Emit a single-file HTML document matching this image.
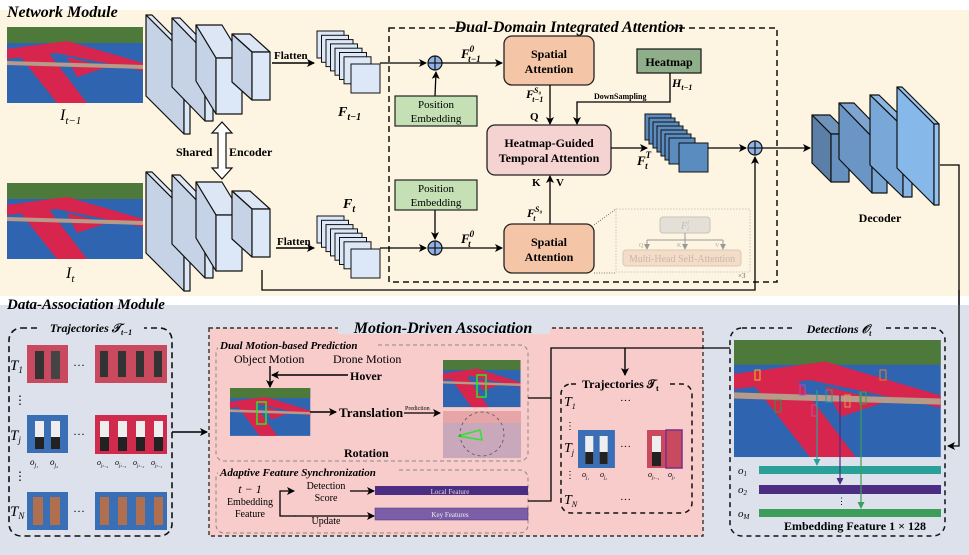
<!DOCTYPE html>
<html><head><meta charset="utf-8"><style>
html,body{margin:0;padding:0;background:#fff}
svg{display:block;font-family:"Liberation Serif",serif}
.b{font-weight:bold}
.i{font-style:italic}
</style></head><body>
<svg width="969" height="555" viewBox="0 0 969 555" xmlns="http://www.w3.org/2000/svg">
<defs>
<marker id="ar" markerWidth="8" markerHeight="8" refX="7" refY="4" orient="auto" markerUnits="userSpaceOnUse"><path d="M0,0 L8,4 L0,8 L2,4z" fill="#000"/></marker>
<marker id="ag" markerWidth="6" markerHeight="6" refX="5" refY="3" orient="auto" markerUnits="userSpaceOnUse"><path d="M0,0 L6,3 L0,6z" fill="#999"/></marker>
<marker id="at" markerWidth="7" markerHeight="7" refX="6" refY="3.5" orient="auto" markerUnits="userSpaceOnUse"><path d="M0,0 L7,3.5 L0,7z" fill="#2aa198"/></marker>
<marker id="ap" markerWidth="7" markerHeight="7" refX="6" refY="3.5" orient="auto" markerUnits="userSpaceOnUse"><path d="M0,0 L7,3.5 L0,7z" fill="#4b2e83"/></marker>
<marker id="agr" markerWidth="7" markerHeight="7" refX="6" refY="3.5" orient="auto" markerUnits="userSpaceOnUse"><path d="M0,0 L7,3.5 L0,7z" fill="#3c9e5a"/></marker>
<g id="court">
<rect width="136" height="76" fill="#2f64b0"/>
<rect width="136" height="16" fill="#4d7a3a"/>
<polygon points="0,22 60,14 136,36 136,44 50,26 0,32" fill="#d8254e"/>
<polygon points="12,28 40,24 80,76 50,76" fill="#d8254e"/>
<polygon points="60,30 100,40 70,50" fill="#d8254e"/>
<polygon points="0,34 136,38 136,42 0,38" fill="#b89a88"/>
</g>
<g id="pers"><rect width="41" height="38" fill="#c94a5e"/><rect x="8" y="6" width="9" height="28" fill="#333"/><rect x="24" y="6" width="9" height="28" fill="#444"/></g>
<g id="persb"><rect width="41" height="38" fill="#3a6eb5"/><rect x="8" y="6" width="9" height="28" fill="#eee"/><rect x="24" y="6" width="9" height="28" fill="#eee"/><rect x="8" y="22" width="9" height="12" fill="#222"/><rect x="24" y="22" width="9" height="12" fill="#222"/></g>
</defs>

<!-- backgrounds -->
<rect x="0" y="10" width="969" height="286" fill="#fdf5e1"/>
<rect x="0" y="305" width="969" height="250" fill="#dce1ec"/>
<text x="7" y="17" class="b i" font-size="16">Network Module</text>
<text x="7" y="309" class="b i" font-size="15">Data-Association Module</text>

<!-- input images -->
<use href="#court" x="7" y="27"/>
<use href="#court" x="7" y="183"/>
<text x="60" y="120" class="i" font-size="16">I<tspan font-size="11" dy="4">t−1</tspan></text>
<text x="66" y="278" class="i" font-size="16">I<tspan font-size="11" dy="4">t</tspan></text>

<!-- encoders -->
<g stroke="#111" stroke-width="1.2" stroke-linejoin="round">
<g id="enc">
<polygon points="146,15 152,15 190,53 184,53" fill="#dce6f5"/><polygon points="146,15 184,53 184,134 146,96" fill="#c6d2e6"/><rect x="184" y="53" width="6" height="81" fill="#dce8f8"/>
<polygon points="172,18 180,18 213,52 205,52" fill="#dce6f5"/><polygon points="172,18 205,52 205,121 172,87" fill="#c6d2e6"/><rect x="205" y="52" width="8" height="69" fill="#dce8f8"/>
<polygon points="196,25 222,25 242,58 216,58" fill="#dce6f5"/><polygon points="196,25 216,58 216,114 196,81" fill="#c6d2e6"/><rect x="216" y="58" width="26" height="56" fill="#dce8f8"/>
<polygon points="232,34 250,34 270,52 252,52" fill="#dce6f5"/><polygon points="232,34 252,52 252,100 232,82" fill="#c6d2e6"/><rect x="252" y="52" width="18" height="48" fill="#dce8f8"/>
</g>
<use href="#enc" y="157"/>
</g>
<!-- shared arrow -->
<polygon points="222,122 232,133 226,133 226,168 232,168 222,179 212,168 218,168 218,133 212,133" fill="#fff" stroke="#111" stroke-width="1.2"/>
<text x="176" y="156" class="b" font-size="12">Shared</text>
<text x="229" y="156" class="b" font-size="12">Encoder</text>

<!-- flatten -->
<line x1="272" y1="63" x2="314" y2="63" stroke="#000" stroke-width="1.5" marker-end="url(#ar)"/>
<text x="274" y="59" class="b" font-size="11">Flatten</text>
<line x1="276" y1="248" x2="314" y2="248" stroke="#000" stroke-width="1.5" marker-end="url(#ar)"/>
<text x="277" y="245" class="b" font-size="11">Flatten</text>

<!-- feature stacks -->
<g stroke="#111" stroke-width="1" fill="#dce8f8" id="fs">
<rect x="317" y="31" width="27" height="27"/><rect x="321.5" y="35.3" width="27" height="27"/><rect x="326" y="39.6" width="27" height="27"/><rect x="330.5" y="43.9" width="27" height="27"/><rect x="335" y="48.2" width="27" height="27"/><rect x="339.5" y="52.5" width="27" height="27"/><rect x="344" y="56.8" width="27" height="27"/><rect x="351" y="64" width="29" height="29"/>
</g>
<use href="#fs" y="185"/>
<text x="338" y="116" class="i b" font-size="14">F<tspan font-size="10" dy="4">t−1</tspan></text>
<text x="343" y="208" class="i b" font-size="14">F<tspan font-size="10" dy="4">t</tspan></text>

<!-- DDIA box -->
<rect x="389" y="28" width="388" height="254" fill="none" stroke="#111" stroke-width="1.5" stroke-dasharray="6,4"/>
<rect x="465" y="16" width="208" height="20" fill="#fdf5e1"/>
<text x="569" y="32" text-anchor="middle" class="b i" font-size="16">Dual-Domain Integrated Attention</text>

<!-- plus circles and lines -->
<line x1="380" y1="63" x2="426" y2="63" stroke="#000" stroke-width="1.3" marker-end="url(#ar)"/>
<line x1="380" y1="248" x2="426" y2="248" stroke="#000" stroke-width="1.3" marker-end="url(#ar)"/>
<g stroke="#111" stroke-width="1.2" fill="#8fb3e6">
<circle cx="435" cy="63" r="7"/><circle cx="435" cy="248" r="7"/><circle cx="755" cy="148" r="7"/>
</g>
<g stroke="#111" stroke-width="1.2"><line x1="428" y1="63" x2="442" y2="63"/><line x1="435" y1="56" x2="435" y2="70"/><line x1="428" y1="248" x2="442" y2="248"/><line x1="435" y1="241" x2="435" y2="255"/><line x1="748" y1="148" x2="762" y2="148"/><line x1="755" y1="141" x2="755" y2="155"/></g>
<line x1="435" y1="96" x2="436" y2="72" stroke="#000" stroke-width="1.3" marker-end="url(#ar)"/>
<line x1="435" y1="210" x2="435" y2="239" stroke="#000" stroke-width="1.3" marker-end="url(#ar)"/>
<rect x="395" y="96" width="82" height="30" fill="#c5e0b4" stroke="#222" stroke-width="1.2"/>
<text x="436" y="108" text-anchor="middle" font-size="11">Position</text><text x="436" y="122" text-anchor="middle" font-size="11">Embedding</text>
<rect x="395" y="180" width="82" height="30" fill="#c5e0b4" stroke="#222" stroke-width="1.2"/>
<text x="436" y="192" text-anchor="middle" font-size="11">Position</text><text x="436" y="206" text-anchor="middle" font-size="11">Embedding</text>

<line x1="442" y1="63" x2="502" y2="63" stroke="#000" stroke-width="1.3" marker-end="url(#ar)"/>
<line x1="442" y1="248" x2="502" y2="248" stroke="#000" stroke-width="1.3" marker-end="url(#ar)"/>
<text x="461" y="58" class="i b" font-size="13">F<tspan font-size="9" dy="-6">0</tspan><tspan font-size="9" dx="-6" dy="10">t−1</tspan></text>
<text x="461" y="243" class="i b" font-size="13">F<tspan font-size="9" dy="-6">0</tspan><tspan font-size="9" dx="-6" dy="10">t</tspan></text>

<!-- spatial attention -->
<rect x="504" y="36" width="90" height="49" rx="8" fill="#f4c5a6" stroke="#222" stroke-width="1.3"/>
<text x="549" y="58" text-anchor="middle" class="b" font-size="12">Spatial</text><text x="549" y="73" text-anchor="middle" class="b" font-size="12">Attention</text>
<rect x="504" y="224" width="90" height="49" rx="8" fill="#f4c5a6" stroke="#222" stroke-width="1.3"/>
<text x="549" y="246" text-anchor="middle" class="b" font-size="12">Spatial</text><text x="549" y="261" text-anchor="middle" class="b" font-size="12">Attention</text>

<!-- HGTA -->
<rect x="487" y="125" width="124" height="50" rx="8" fill="#f5d3d1" stroke="#222" stroke-width="1.3"/>
<text x="549" y="147" text-anchor="middle" class="b" font-size="12">Heatmap-Guided</text><text x="549" y="162" text-anchor="middle" class="b" font-size="12">Temporal Attention</text>
<line x1="550" y1="85" x2="550" y2="124" stroke="#000" stroke-width="1.3" marker-end="url(#ar)"/>
<line x1="550" y1="224" x2="550" y2="176" stroke="#000" stroke-width="1.3" marker-end="url(#ar)"/>
<text x="526" y="98" class="i b" font-size="12">F<tspan font-size="8" dy="-5">S₀</tspan><tspan font-size="8" dx="-9" dy="9">t−1</tspan></text>
<text x="530" y="120" class="b" font-size="11">Q</text>
<text x="532" y="186" class="b" font-size="11">K</text><text x="556" y="186" class="b" font-size="11">V</text>
<text x="527" y="217" class="i b" font-size="12">F<tspan font-size="8" dy="-5">S₀</tspan><tspan font-size="8" dx="-9" dy="9">t</tspan></text>

<!-- heatmap -->
<rect x="637" y="49" width="64" height="24" fill="#8fae8a" stroke="#222" stroke-width="1.3"/>
<text x="669" y="66" text-anchor="middle" class="b" font-size="12">Heatmap</text>
<text x="672" y="87" class="i b" font-size="12">H<tspan font-size="8" dy="3">t−1</tspan></text>
<polyline points="670,73 670,102 577,102 577,124" fill="none" stroke="#000" stroke-width="1.3" marker-end="url(#ar)"/>
<text x="594" y="99" class="b" font-size="8">DownSampling</text>

<!-- F_t^T stack -->
<line x1="611" y1="148" x2="647" y2="148" stroke="#000" stroke-width="1.3" marker-end="url(#ar)"/>
<g stroke="#111" stroke-width="1" fill="#5b8cc0">
<rect x="645" y="114" width="26" height="26"/><rect x="649" y="118" width="26" height="26"/><rect x="653" y="122" width="26" height="26"/><rect x="657" y="126" width="26" height="26"/><rect x="661" y="130" width="26" height="26"/><rect x="665" y="134" width="26" height="26"/><rect x="669" y="138" width="26" height="26"/><rect x="679" y="143" width="29" height="29"/>
</g>
<text x="637" y="165" class="i b" font-size="13">F<tspan font-size="9" dy="-7">T</tspan><tspan font-size="9" dx="-6" dy="11">t</tspan></text>
<line x1="708" y1="148" x2="746" y2="148" stroke="#000" stroke-width="1.3" marker-end="url(#ar)"/>
<polyline points="262,270 262,290 755,290 755,157" fill="none" stroke="#000" stroke-width="1.3" marker-end="url(#ar)"/>
<line x1="762" y1="148" x2="810" y2="148" stroke="#000" stroke-width="1.3" marker-end="url(#ar)"/>

<!-- MHSA inset -->
<line x1="594" y1="225" x2="616" y2="209" stroke="#555" stroke-width="0.8" stroke-dasharray="1,1.5"/>
<line x1="594" y1="273" x2="616" y2="273" stroke="#555" stroke-width="0.8" stroke-dasharray="1,1.5"/>
<rect x="616" y="209" width="134" height="63" fill="none" stroke="#bbb" stroke-width="0.8" stroke-dasharray="1.5,1.5"/>
<rect x="660" y="217" width="50" height="16" rx="3" fill="#e4e0d8" stroke="#c8c4bc"/>
<text x="681" y="229" class="i" font-size="10" fill="#bbb">F<tspan font-size="7" dy="-4">i</tspan><tspan font-size="7" dx="-2" dy="6">t</tspan></text>
<polyline points="685,233 685,240" fill="none" stroke="#999"/>
<polyline points="647,240 723,240" fill="none" stroke="#999"/>
<line x1="647" y1="240" x2="647" y2="249" stroke="#999" marker-end="url(#ag)"/>
<line x1="685" y1="240" x2="685" y2="249" stroke="#999" marker-end="url(#ag)"/>
<line x1="723" y1="240" x2="723" y2="249" stroke="#999" marker-end="url(#ag)"/>
<text x="639" y="247" font-size="6" fill="#aaa">Q</text><text x="677" y="247" font-size="6" fill="#aaa">K</text><text x="715" y="247" font-size="6" fill="#aaa">V</text>
<rect x="623" y="250" width="118" height="16" rx="3" fill="#f3dcc8" stroke="#ddc8b4"/>
<text x="682" y="262" text-anchor="middle" font-size="10" fill="#c9b8a8">Multi-Head Self-Attention</text>
<text x="738" y="278" font-size="7" fill="#666">×3</text>

<!-- decoder -->
<g stroke="#111" stroke-width="1.2" stroke-linejoin="round">
<polygon points="812,115 830,115 849,134 831,134" fill="#6f93bb"/><polygon points="812,115 831,134 831,182 812,163" fill="#5b7fa6"/><rect x="831" y="134" width="18" height="48" fill="#6690bd"/>
<polygon points="839,103 854,103 887,137 872,137" fill="#7ea5cf"/><polygon points="839,103 872,137 872,193 839,159" fill="#6a95c4"/><rect x="872" y="137" width="15" height="56" fill="#79a5d4"/>
<polygon points="870,95 879,95 912,127 903,127" fill="#8db6e0"/><polygon points="870,95 903,127 903,197 870,165" fill="#79a8d8"/><rect x="903" y="127" width="9" height="70" fill="#86b5e6"/>
<polygon points="897,87 902,87 939,124 934,124" fill="#9ac3ee"/><polygon points="897,87 934,124 934,205 897,168" fill="#86b8ea"/><rect x="934" y="124" width="5" height="81" fill="#95c4f0"/>
</g>
<text x="880" y="222" text-anchor="middle" class="b" font-size="12">Decoder</text>
<polyline points="940,165 959,165 959,446 948,446" fill="none" stroke="#000" stroke-width="1.3" marker-end="url(#ar)"/>
<line x1="959" y1="290" x2="959" y2="305" stroke="#000" stroke-width="1.3"/>

<!-- Trajectories t-1 -->
<rect x="9" y="328" width="163" height="208" rx="12" fill="none" stroke="#111" stroke-width="1.6" stroke-dasharray="6,4"/>
<rect x="38" y="320" width="106" height="16" fill="#dce1ec"/>
<text x="91" y="332" text-anchor="middle" class="i b" font-size="12">Trajectories 𝒯<tspan font-size="8" dy="3">t−1</tspan></text>
<text x="10" y="370" class="i" font-size="15">T<tspan font-size="9" dy="3">1</tspan></text>
<text x="10" y="440" class="i" font-size="15">T<tspan font-size="9" dy="3">j</tspan></text>
<text x="10" y="516" class="i" font-size="15">T<tspan font-size="9" dy="3">N</tspan></text>
<text x="14" y="404" font-size="12">⋮</text><text x="14" y="480" font-size="12">⋮</text>
<use href="#pers" x="27" y="345"/><rect x="95" y="345" width="72" height="38" fill="#c94a5e"/>
<g fill="#333"><rect x="100" y="351" width="8" height="26"/><rect x="118" y="351" width="8" height="26"/><rect x="136" y="351" width="8" height="26"/><rect x="154" y="351" width="8" height="26"/></g>
<use href="#persb" x="27" y="415"/><rect x="95" y="415" width="72" height="39" fill="#d02a4c"/>
<g fill="#eee"><rect x="100" y="421" width="9" height="16"/><rect x="118" y="421" width="9" height="16"/><rect x="136" y="421" width="9" height="16"/><rect x="154" y="421" width="9" height="16"/></g>
<g fill="#222"><rect x="100" y="437" width="9" height="14"/><rect x="118" y="437" width="9" height="14"/><rect x="136" y="437" width="9" height="14"/><rect x="154" y="437" width="9" height="14"/></g>
<rect x="27" y="492" width="41" height="38" fill="#3a6eb5"/><rect x="95" y="492" width="72" height="38" fill="#3a6eb5"/>
<g fill="#b07050"><rect x="33" y="497" width="10" height="28"/><rect x="50" y="497" width="10" height="28"/><rect x="100" y="497" width="9" height="28"/><rect x="118" y="497" width="9" height="28"/><rect x="136" y="497" width="9" height="28"/><rect x="154" y="497" width="9" height="28"/></g>
<text x="73" y="369" font-size="12">···</text><text x="73" y="438" font-size="12">···</text><text x="73" y="515" font-size="12">···</text>
<text x="30" y="465" class="i" font-size="9">o<tspan font-size="6" dy="2">j₁</tspan></text><text x="50" y="465" class="i" font-size="9">o<tspan font-size="6" dy="2">j₂</tspan></text>
<text x="97" y="465" class="i" font-size="8">o<tspan font-size="5" dy="2">jₜ₋₄</tspan></text><text x="115" y="465" class="i" font-size="8">o<tspan font-size="5" dy="2">jₜ₋₃</tspan></text><text x="133" y="465" class="i" font-size="8">o<tspan font-size="5" dy="2">jₜ₋₂</tspan></text><text x="151" y="465" class="i" font-size="8">o<tspan font-size="5" dy="2">jₜ₋₁</tspan></text>
<line x1="172" y1="432" x2="207" y2="432" stroke="#000" stroke-width="1.5" marker-end="url(#ar)"/>

<!-- Motion-driven association -->
<rect x="209" y="328" width="494" height="208" fill="#f7cccb" stroke="#333" stroke-width="1.4" stroke-dasharray="4,3"/>
<rect x="338" y="318" width="212" height="16" fill="#dce1ec"/>
<text x="443" y="333" text-anchor="middle" class="i b" font-size="16">Motion-Driven Association</text>
<rect x="216" y="345" width="312" height="116" rx="8" fill="none" stroke="#888" stroke-width="1" stroke-dasharray="4,3"/>
<rect x="218" y="338" width="160" height="12" fill="#f7cccb"/>
<text x="220" y="349" class="i b" font-size="11">Dual Motion-based Prediction</text>
<text x="234" y="363" font-size="12">Object Motion</text>
<text x="333" y="363" font-size="12">Drone Motion</text>
<text x="350" y="380" class="b" font-size="12">Hover</text>
<line x1="348" y1="375" x2="272" y2="375" stroke="#000" stroke-width="1.4" marker-end="url(#ar)"/>
<line x1="270" y1="366" x2="270" y2="387" stroke="#000" stroke-width="1.4" marker-end="url(#ar)"/>
<g transform="translate(230,388) scale(0.59,0.63)"><use href="#court"/></g>
<rect x="257" y="402" width="9" height="22" fill="none" stroke="#2be52b" stroke-width="1.5"/>
<line x1="310" y1="412" x2="336" y2="412" stroke="#000" stroke-width="1.4" marker-end="url(#ar)"/>
<text x="339" y="417" class="b" font-size="13">Translation</text>
<text x="405" y="410" font-size="6">Prediction</text>
<line x1="404" y1="413" x2="440" y2="413" stroke="#000" stroke-width="1.3" marker-end="url(#ar)"/>
<text x="344" y="457" class="b" font-size="12">Rotation</text>
<g transform="translate(443,360) scale(0.57,0.62)"><use href="#court"/></g>
<rect x="477" y="375" width="9" height="22" fill="none" stroke="#2be52b" stroke-width="1.5"/>
<rect x="443" y="411" width="78" height="47" fill="#c9a8bc"/>
<rect x="443" y="411" width="78" height="12" fill="#e6a6a8"/>
<polyline points="458,436 480,430 482,440 458,436" fill="none" stroke="#2be52b" stroke-width="1.5"/>
<circle cx="482" cy="434" r="22" fill="none" stroke="#555" stroke-dasharray="3,3" stroke-width="0.8"/>

<rect x="216" y="470" width="312" height="63" rx="8" fill="none" stroke="#888" stroke-width="1" stroke-dasharray="4,3"/>
<rect x="218" y="465" width="178" height="12" fill="#f7cccb"/>
<text x="220" y="476" class="i b" font-size="11">Adaptive Feature Synchronization</text>
<text x="250" y="493" text-anchor="middle" class="i" font-size="12">t − 1</text>
<text x="250" y="505" text-anchor="middle" font-size="10">Embedding</text>
<text x="250" y="517" text-anchor="middle" font-size="10">Feature</text>
<polyline points="295,516 280,516 280,491 294,491" fill="none" stroke="#000" stroke-width="1.3" marker-end="url(#ar)"/>
<line x1="294" y1="516" x2="374" y2="516" stroke="#000" stroke-width="1.3" marker-end="url(#ar)"/>
<text x="326" y="489" text-anchor="middle" font-size="10">Detection</text>
<text x="326" y="501" text-anchor="middle" font-size="10">Score</text>
<text x="326" y="524" text-anchor="middle" font-size="10">Update</text>
<line x1="350" y1="491" x2="374" y2="491" stroke="#000" stroke-width="1.3" marker-end="url(#ar)"/>
<rect x="375" y="486" width="153" height="9" fill="#4b2e83"/>
<text x="450" y="494" text-anchor="middle" font-size="7" fill="#ddd">Local Feature</text>
<rect x="375" y="508" width="153" height="12" fill="#7b5ea7" stroke="#4b2e83" stroke-width="0.5"/>
<text x="450" y="517" text-anchor="middle" font-size="7" fill="#eee">Key Features</text>

<polyline points="528,398 551,398 551,348 730,348" fill="none" stroke="#000" stroke-width="1.3"/>
<polyline points="528,501 551,501 551,398" fill="none" stroke="#000" stroke-width="1.3"/>
<line x1="625" y1="348" x2="625" y2="375" stroke="#000" stroke-width="1.4" marker-end="url(#ar)"/>

<!-- Trajectories t -->
<rect x="561" y="384" width="131" height="129" rx="10" fill="none" stroke="#111" stroke-width="1.5" stroke-dasharray="5,4"/>
<rect x="580" y="376" width="88" height="14" fill="#f7cccb"/>
<text x="582" y="388" class="b" font-size="12">Trajectories 𝒯<tspan font-size="8" dy="3">t</tspan></text>
<text x="564" y="406" class="i" font-size="14">T<tspan font-size="8" dy="3">1</tspan></text>
<text x="564" y="452" class="i" font-size="14">T<tspan font-size="8" dy="3">j</tspan></text>
<text x="564" y="504" class="i" font-size="14">T<tspan font-size="8" dy="3">N</tspan></text>
<text x="565" y="429" font-size="10">⋮</text><text x="565" y="478" font-size="10">⋮</text>
<text x="620" y="404" font-size="11">···</text><text x="620" y="450" font-size="11">···</text><text x="620" y="503" font-size="11">···</text>
<g transform="translate(578,430) scale(0.9,1)"><use href="#persb"/></g>
<rect x="647" y="430" width="35" height="38" fill="#c94a5e"/><rect x="652" y="436" width="9" height="16" fill="#eee"/><rect x="652" y="452" width="9" height="14" fill="#222"/>
<rect x="666" y="430" width="16" height="38" fill="none" stroke="#7b2e8e" stroke-width="1.5"/>
<text x="582" y="477" class="i" font-size="8">o<tspan font-size="5" dy="2">j₁</tspan></text><text x="600" y="477" class="i" font-size="8">o<tspan font-size="5" dy="2">j₂</tspan></text>
<text x="648" y="477" class="i" font-size="8">o<tspan font-size="5" dy="2">jₜ₋₁</tspan></text><text x="668" y="477" class="i" font-size="8">o<tspan font-size="5" dy="2">jₜ</tspan></text>

<!-- Detections -->
<rect x="730" y="328" width="215" height="208" rx="12" fill="none" stroke="#111" stroke-width="1.5" stroke-dasharray="5,4"/>
<rect x="792" y="320" width="94" height="15" fill="#dce1ec"/>
<text x="839" y="333" text-anchor="middle" class="i b" font-size="12">Detections 𝒪<tspan font-size="8" dy="3">t</tspan></text>
<g transform="translate(734,340) scale(1.52,1.54)"><use href="#court"/></g>
<g fill="none" stroke-width="1">
<rect x="755" y="370" width="5" height="10" stroke="#e6c020"/><rect x="775" y="400" width="6" height="12" stroke="#2a9a40"/><rect x="800" y="385" width="5" height="10" stroke="#a050c0"/><rect x="826" y="390" width="6" height="12" stroke="#20a0a0"/><rect x="845" y="395" width="5" height="12" stroke="#e0a050"/><rect x="860" y="392" width="6" height="12" stroke="#40a040"/><rect x="770" y="420" width="6" height="12" stroke="#3060c0"/><rect x="812" y="405" width="5" height="11" stroke="#c050a0"/><rect x="880" y="370" width="6" height="10" stroke="#e08030"/>
</g>
<rect x="759" y="466" width="182" height="8" fill="#2aa198"/>
<rect x="759" y="485" width="182" height="9" fill="#4b2e83"/>
<rect x="759" y="509" width="182" height="8" fill="#3c9e5a"/>
<line x1="817" y1="390" x2="817" y2="465" stroke="#2aa198" stroke-width="1.2" marker-end="url(#at)"/>
<line x1="840" y1="395" x2="840" y2="484" stroke="#4b2e83" stroke-width="1.2" marker-end="url(#ap)"/>
<line x1="861" y1="393" x2="861" y2="508" stroke="#3c9e5a" stroke-width="1.2" marker-end="url(#agr)"/>
<text x="738" y="474" class="i" font-size="11">o<tspan font-size="7" dy="2">1</tspan></text>
<text x="738" y="493" class="i" font-size="11">o<tspan font-size="7" dy="2">2</tspan></text>
<text x="738" y="517" class="i" font-size="11">o<tspan font-size="7" dy="2">M</tspan></text>
<text x="837" y="504" font-size="9">⋮</text>
<text x="784" y="530" class="b" font-size="12">Embedding Feature 1 × 128</text>
</svg>
</body></html>
